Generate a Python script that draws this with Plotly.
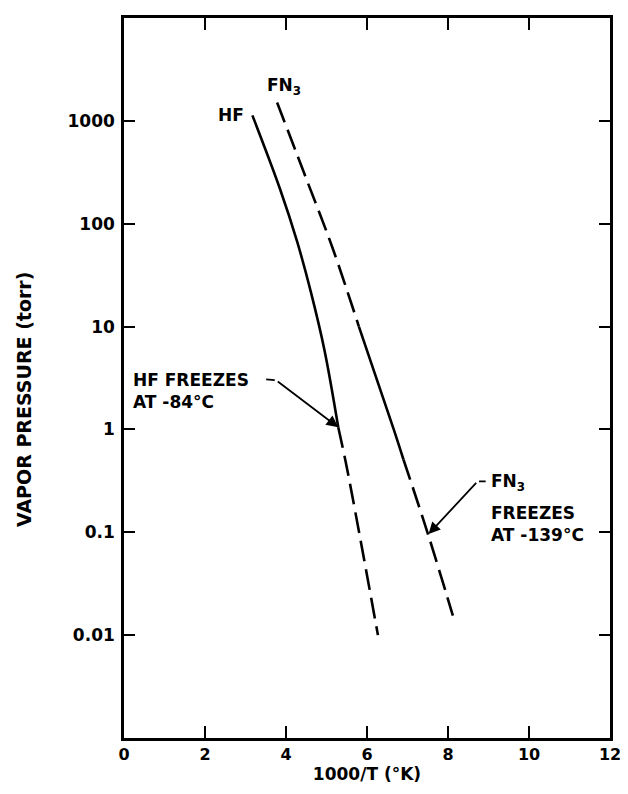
import math
import plotly.graph_objects as go

# ---------------- data ----------------
# HF: liquid curve (solid) and extrapolation below freezing point (dashed)
hf_liquid_x = [3.17, 3.85, 4.27, 4.61, 4.95, 5.29]
hf_liquid_p = [1130, 219, 68, 22, 5.9, 1.05]
hf_extrap_x = [5.29, 5.51, 6.27]
hf_extrap_p = [1.05, 0.41, 0.01]

# FN3: upper dashed, measured solid part, lower dashed extrapolation
fn3_upper_x = [3.78, 4.44, 5.15, 5.80]
fn3_upper_p = [1510, 316, 58, 10]
fn3_mid_x = [5.80, 6.66, 6.90]
fn3_mid_p = [10, 1.0, 0.51]
fn3_lower_x = [6.90, 7.51, 8.12]
fn3_lower_p = [0.51, 0.095, 0.0155]

hf_freeze_x, hf_freeze_p = 5.29, 1.05
fn3_freeze_x, fn3_freeze_p = 7.52, 0.096

x_ticks = [0, 2, 4, 6, 8, 10, 12]
y_ticks = [0.01, 0.1, 1, 10, 100, 1000]
y_ticktext = ["0.01", "0.1", "1", "10", "100", "1000"]

FONT = "DejaVu Sans"
LW = 2.6
DASH = "21px,8px"

fig = go.Figure()


def add(x, y, dash, shape="spline"):
    fig.add_trace(go.Scatter(
        x=x, y=y, mode="lines",
        line=dict(color="black", width=LW, dash=dash, shape=shape, smoothing=1.0),
        showlegend=False, hoverinfo="skip"))


add(hf_liquid_x, hf_liquid_p, "solid")
add(hf_extrap_x, hf_extrap_p, DASH)
add(fn3_upper_x, fn3_upper_p, DASH)
add(fn3_mid_x, fn3_mid_p, "solid")
add(fn3_lower_x, fn3_lower_p, DASH)

tf = dict(family=FONT, size=17, color="black", weight="bold")
L = math.log10

annotations = [
    # curve labels
    dict(x=3.0, y=3.054, text="HF", xanchor="right", yanchor="middle"),
    dict(x=3.49, y=3.334, text="FN<sub>3</sub>", xanchor="left", yanchor="middle"),
    # HF freezing note
    dict(x=0.17, y=0.37, text="HF FREEZES<br>AT -84°C", xanchor="left",
         yanchor="middle", align="left"),
    # FN3 freezing note
    dict(x=9.0, y=-0.52, text="FN<sub>3</sub>", xanchor="left", yanchor="middle"),
    dict(x=9.0, y=-0.915, text="FREEZES<br>AT -139°C", xanchor="left",
         yanchor="middle", align="left"),
]
for a in annotations:
    a.update(xref="x", yref="y", showarrow=False, font=tf)

arrows = [
    # HF leader and arrow
    dict(x=3.51, y=0.487, ax=3.76, ay=0.477, arrowhead=0),
    dict(x=hf_freeze_x, y=L(hf_freeze_p), ax=3.76, ay=0.477, arrowhead=2),
    # FN3 leader and arrow
    dict(x=8.93, y=-0.505, ax=8.73, ay=-0.505, arrowhead=0),
    dict(x=fn3_freeze_x, y=L(fn3_freeze_p), ax=8.73, ay=-0.505, arrowhead=2),
]
for a in arrows:
    a.update(xref="x", yref="y", axref="x", ayref="y", text="", showarrow=True,
             arrowwidth=1.8, arrowsize=1.3, arrowcolor="black", standoff=0,
             startstandoff=0)

# y-axis title placed as a rotated annotation (slightly below the axis centre)
annotations.append(dict(
    xref="paper", yref="paper", x=-0.207, y=0.47, xanchor="center",
    yanchor="middle", textangle=-90, showarrow=False,
    text="VAPOR PRESSURE (torr)",
    font=dict(family=FONT, size=19, color="black", weight="bold")))

# the page body adds an 8px offset, so the figure is 8px smaller than the window
fig.update_layout(
    width=620, height=786,
    margin=dict(l=116, r=12, t=7, b=56),
    paper_bgcolor="white", plot_bgcolor="white",
    font=dict(family=FONT, size=17, color="black", weight="bold"),
    annotations=annotations + arrows,
    xaxis=dict(
        range=[0, 12], tickvals=x_ticks, ticks="inside", ticklen=12,
        tickwidth=2, tickcolor="black", showline=True, linewidth=2.6,
        linecolor="black", mirror="ticks", showgrid=False, zeroline=False,
        tickfont=dict(family=FONT, size=16, weight="bold"),
        title=dict(text="1000/T (°K)", standoff=6,
                   font=dict(family=FONT, size=17, weight="bold")),
    ),
    yaxis=dict(
        type="log", range=[-3, 4], tickvals=y_ticks, ticktext=y_ticktext,
        ticks="inside", ticklen=11, tickwidth=2, tickcolor="black",
        showline=True, linewidth=2.6, linecolor="black", mirror="ticks",
        showgrid=False, zeroline=False, ticklabelstandoff=3,
        tickfont=dict(family=FONT, size=17, weight="bold"),
    ),
)

fig.write_html("out.html")
